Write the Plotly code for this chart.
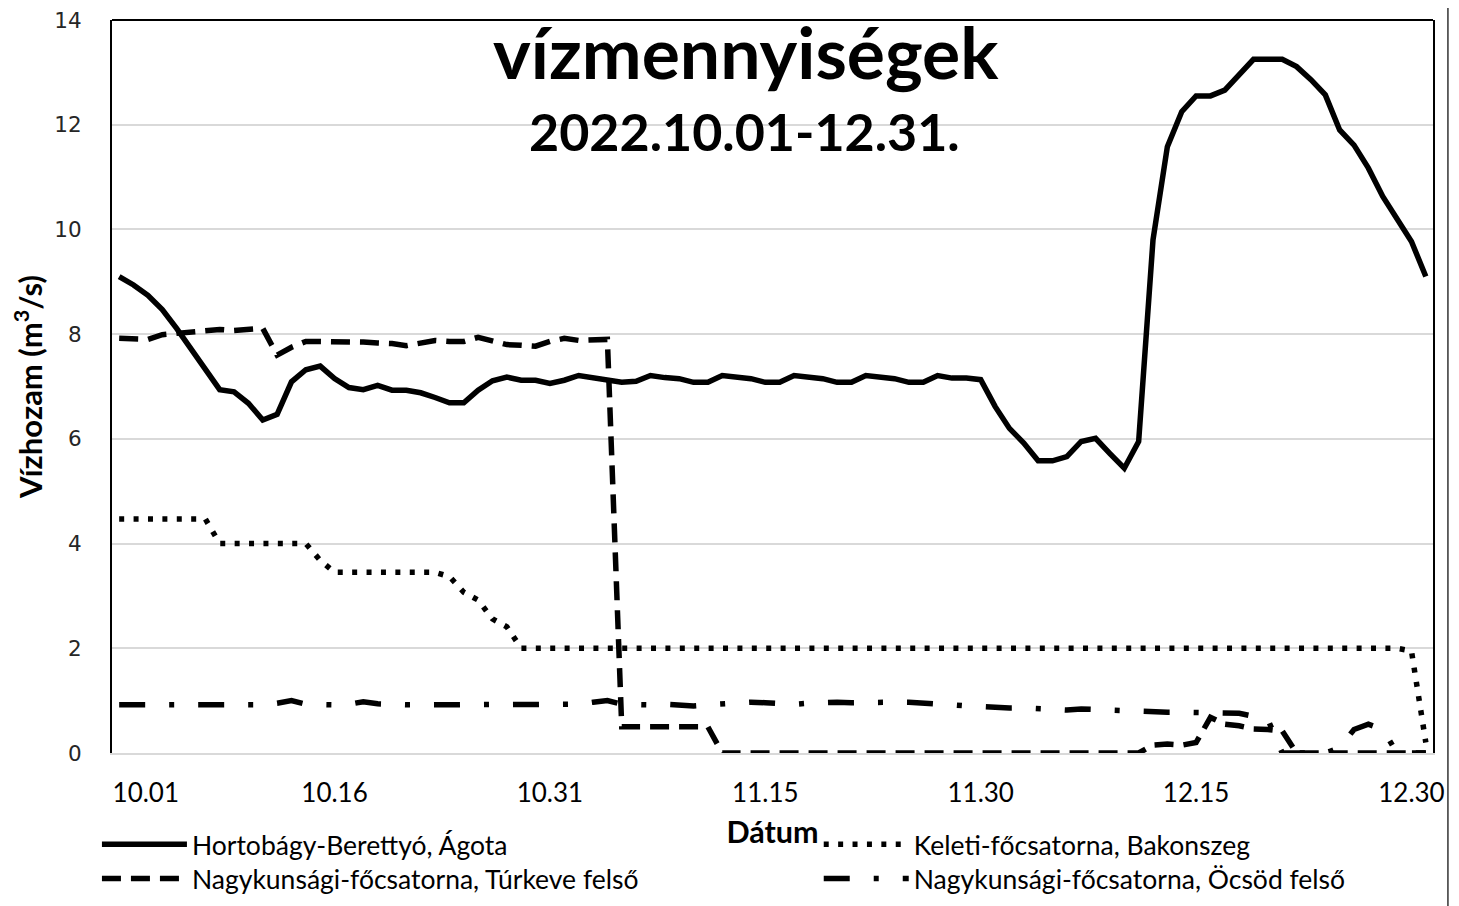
import plotly.graph_objects as go
import pandas as pd

# Categories: one per day, 2022.10.01 - 2022.12.31
dates = pd.date_range("2022-10-01", "2022-12-31", freq="D").strftime("%m.%d").tolist()

tick_vals = ["10.01", "10.16", "10.31", "11.15", "11.30", "12.15", "12.30"]
tick_text = ["\u00a0" * 8 + "10.01", "10.16", "10.31", "11.15", "11.30", "12.15", "12.30"]

hortobagy = [
    9.10, 8.94, 8.74, 8.47, 8.11, 7.72, 7.34, 6.94, 6.90, 6.68, 6.36, 6.47, 7.09, 7.32,
    7.39, 7.15, 6.98, 6.94, 7.02, 6.93, 6.93, 6.88, 6.79, 6.69, 6.69, 6.93, 7.11, 7.18,
    7.12, 7.12, 7.06, 7.12, 7.21, 7.17, 7.13, 7.08, 7.10, 7.21, 7.17, 7.15, 7.08, 7.08,
    7.21, 7.17, 7.15, 7.08, 7.08, 7.21, 7.17, 7.15, 7.08, 7.08, 7.21, 7.17, 7.15, 7.08,
    7.08, 7.21, 7.16, 7.16, 7.13,
    6.62, 6.20, 5.92, 5.58, 5.58, 5.66, 5.95, 6.01, 5.72, 5.44, 5.95, 9.80, 11.58, 12.25,
    12.55, 12.55, 12.66, 12.95, 13.25, 13.25, 13.25, 13.11, 12.86, 12.57, 11.90, 11.61,
    11.17, 10.63, 10.18, 9.77, 9.10,
]

keleti = (
    [4.47] * 7 + [4.00] * 7 + [3.68] + [3.45] * 8
    + [3.37, 3.07, 2.92, 2.56, 2.41]
    + [2.00] * 62 + [1.95, 0.20]
)

turkeve = (
    [7.92, 7.90, 7.90, 7.99, 8.01, 8.03, 8.06, 8.09, 8.07, 8.09, 8.11, 7.60, 7.75, 7.86,
     7.86, 7.86, 7.86, 7.85, 7.83, 7.82, 7.78, 7.83, 7.88, 7.86, 7.86, 7.94, 7.86, 7.80,
     7.79, 7.77, 7.86, 7.92, 7.88, 7.88, 7.90,
     0.50, 0.50, 0.50, 0.52, 0.52, 0.52, 0.50]
    + [0.00] * 30
    + [0.15, 0.17, 0.15, 0.20, 0.68, 0.55, 0.52, 0.46, 0.45, 0.42]
    + [0.00] * 10
)

ocsod = (
    [0.92] * 11 + [0.95, 1.00, 0.93, 0.92, 0.92, 0.93, 0.98, 0.94] + [0.92] * 13
    + [0.93, 0.97, 1.00, 0.93, 0.92, 0.92, 0.93, 0.91, 0.90, 0.92, 0.94, 0.96, 0.97,
       0.96, 0.94, 0.93, 0.95, 0.97, 0.97, 0.96, 0.97, 0.97, 0.97, 0.97, 0.96, 0.94,
       0.92, 0.90, 0.88, 0.86, 0.86, 0.86, 0.85, 0.82, 0.82, 0.84, 0.83, 0.82, 0.80,
       0.80, 0.77, 0.78, 0.78, 0.78, 0.77, 0.76, 0.76, 0.70, 0.64, 0.00, 0.00, 0.00,
       0.00, 0.10, 0.45, 0.55, 0.45, 0.00, 0.00, 0.00]
)

# name, values, dash pattern, legend slot
series = [
    ("Hortobágy-Berettyó, Ágota", hortobagy, "solid", "legend"),
    ("Keleti-főcsatorna, Bakonszeg", keleti, "5px,9.4px", "legend2"),
    ("Nagykunsági-főcsatorna, Túrkeve felső", turkeve, "19px,10px", "legend3"),
    ("Nagykunsági-főcsatorna, Öcsöd felső", ocsod, "26px,24px,5px,24px", "legend4"),
]

TXT = "Lato"
fig = go.Figure()
for name, vals, dash, leg in series:
    fig.add_trace(go.Scatter(
        x=dates, y=vals, name=name, mode="lines", legend=leg,
        line=dict(color="black", width=5.5, dash=dash),
        hoverinfo="skip",
    ))

leg_font = dict(family=TXT, size=26.5, color="black")
def leg(x, y):
    return dict(x=x, y=y, xanchor="left", yanchor="top", orientation="v",
                font=leg_font, bgcolor="rgba(0,0,0,0)", itemwidth=85)

# the page body adds an 8px offset; margins compensate so the plot box sits at
# x 112..1433, y 20..753 of the window
fig.update_layout(
    width=1459, height=906,
    margin=dict(l=104, r=34, t=12, b=161, autoexpand=False),
    paper_bgcolor="white", plot_bgcolor="white",
    showlegend=True,
    legend=leg(-0.0114, -0.092),
    legend2=leg(0.535, -0.092),
    legend3=leg(-0.0114, -0.139),
    legend4=leg(0.535, -0.139),
    font=dict(family=TXT, color="black"),
)

fig.update_xaxes(
    type="category", range=[-0.5, 91.5],
    tickmode="array", tickvals=tick_vals, ticktext=tick_text,
    tickfont=dict(family=TXT, size=26, color="black"),
    ticks="", ticklabelstandoff=16, ticklabeloverflow="allow",
    showgrid=False, showline=True, linecolor="#d9d9d9", linewidth=2,
    title=dict(text="<b>Dátum</b>", font=dict(family=TXT, size=30.5, color="black"), standoff=14),
    zeroline=False,
)
fig.update_yaxes(
    range=[0, 14], dtick=2, tick0=0,
    tickfont=dict(family="DejaVu Sans", size=21.5, color="#262626"),
    ticks="", ticklabelstandoff=24, ticklabeloverflow="allow",
    showgrid=True, gridcolor="#d9d9d9", gridwidth=1.5,
    showline=True, linecolor="black", linewidth=2, mirror=True,
    zeroline=False,
    title=dict(text="<b>Vízhozam (m<sup>3</sup>/s)</b>", font=dict(family=TXT, size=31, color="black"), standoff=14),
)

# top border of plot area, and outer chart edge on the right
fig.add_shape(type="line", xref="paper", yref="paper", x0=0, x1=1, y0=1, y1=1,
              line=dict(color="black", width=2))
fig.add_shape(type="line", xref="paper", yref="paper", x0=1.0113, x1=1.0113,
              y0=-0.22, y1=1.03, line=dict(color="#333333", width=1.5))

fig.add_annotation(text="<b>vízmennyiségek</b>", xref="paper", yref="paper",
                   x=0.48, y=0.958, xanchor="center", yanchor="middle", showarrow=False,
                   font=dict(family=TXT, size=71.5, color="black"))
fig.add_annotation(text="<b>2022.10.01-12.31.</b>", xref="paper", yref="paper",
                   x=0.479, y=0.849, xanchor="center", yanchor="middle", showarrow=False,
                   font=dict(family=TXT, size=52, color="black"))

fig.write_html("out.html")
